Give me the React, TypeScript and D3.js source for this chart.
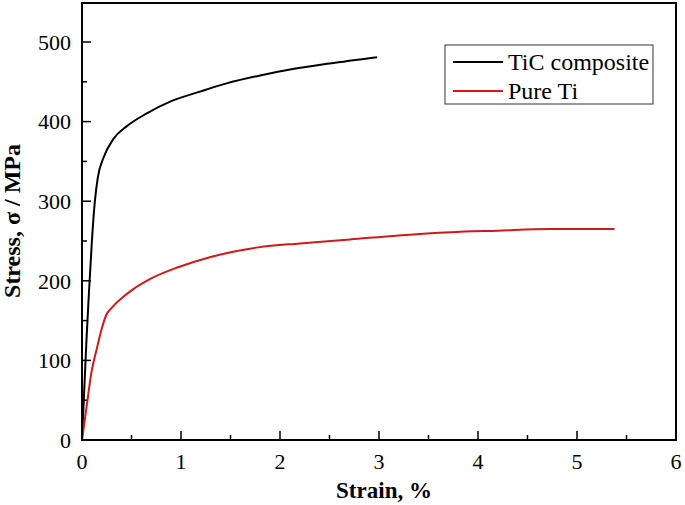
import { useEffect, useRef } from "react";
import * as d3 from "d3";

// Stress–strain curves
const ticStrain = [0, 0.02, 0.045, 0.07, 0.1, 0.13, 0.16, 0.215, 0.316, 0.45, 0.65, 0.89, 1.2, 1.46, 1.8, 2.13, 2.5, 2.98];
const ticStress = [0, 55, 125, 185, 250, 300, 330, 354, 378, 394, 410, 425, 438, 448, 458, 466, 473, 481];

const tiStrain = [0, 0.05, 0.094, 0.15, 0.2, 0.245, 0.3, 0.4, 0.5, 0.7, 0.97, 1.3, 1.78, 2.2, 2.71, 3.2, 3.72, 4.2, 4.73, 5.38];
const tiStress = [0, 45, 84, 115, 140, 157, 166, 178, 188, 203, 217, 230, 242, 247, 252, 257, 261, 263, 265, 265];

const xTicks = [0, 1, 2, 3, 4, 5, 6];
const yTicks = [0, 100, 200, 300, 400, 500];

const seriesNames = ["TiC composite", "Pure Ti"];
const seriesColors = ["#000000", "#d0191b"];

const width = 685;
const height = 505;

export default function App() {
    const svgRef = useRef<SVGSVGElement | null>(null);

    useEffect(() => {
        const svg = d3.select(svgRef.current);
        svg.selectAll("*").remove();

        const margin = { top: 3, right: 9, bottom: 65, left: 82 };
        const innerWidth = width - margin.left - margin.right;
        const innerHeight = height - margin.top - margin.bottom;
        const font = "'Liberation Serif', 'Times New Roman', serif";

        const g = svg.append("g").attr("transform", `translate(${margin.left},${margin.top})`);

        const x = d3.scaleLinear().domain([0, 6]).range([0, innerWidth]);
        // y=500 sits at about 42px, the top of the frame is a bit above 540
        const y = d3.scaleLinear().domain([0, 500]).range([innerHeight, innerHeight - 398]);
        const yTop = y.invert(0);

        // minor ticks
        const xMinor = d3.range(0.5, 6, 1);
        const yMinor = d3.range(50, yTop, 100);

        g.selectAll(".xmaj").data(xTicks).enter().append("line")
            .attr("x1", (d) => x(d)).attr("x2", (d) => x(d))
            .attr("y1", innerHeight).attr("y2", innerHeight - 9)
            .attr("stroke", "#000").attr("stroke-width", 1.5);
        g.selectAll(".xmin").data(xMinor).enter().append("line")
            .attr("x1", (d) => x(d)).attr("x2", (d) => x(d))
            .attr("y1", innerHeight).attr("y2", innerHeight - 5)
            .attr("stroke", "#000").attr("stroke-width", 1.5);
        g.selectAll(".ymaj").data(yTicks).enter().append("line")
            .attr("x1", 0).attr("x2", 9)
            .attr("y1", (d) => y(d)).attr("y2", (d) => y(d))
            .attr("stroke", "#000").attr("stroke-width", 1.5);
        g.selectAll(".ymin").data(yMinor).enter().append("line")
            .attr("x1", 0).attr("x2", 5)
            .attr("y1", (d) => y(d)).attr("y2", (d) => y(d))
            .attr("stroke", "#000").attr("stroke-width", 1.5);

        // tick labels
        g.selectAll(".xlab").data(xTicks).enter().append("text")
            .attr("x", (d) => x(d)).attr("y", innerHeight + 29)
            .attr("text-anchor", "middle")
            .style("font-family", font).style("font-size", "22px")
            .text((d) => d);
        g.selectAll(".ylab").data(yTicks).enter().append("text")
            .attr("x", -11).attr("y", (d) => y(d)).attr("dy", "0.35em")
            .attr("text-anchor", "end")
            .style("font-family", font).style("font-size", "22px")
            .text((d) => d);

        // curves
        const line = d3.line<[number, number]>()
            .x((d) => x(d[0])).y((d) => y(d[1]))
            .curve(d3.curveMonotoneX);

        const series: [number, number][][] = [
            ticStrain.map((s, i) => [s, ticStress[i]]),
            tiStrain.map((s, i) => [s, tiStress[i]]),
        ];

        g.selectAll(".curve").data(series).enter().append("path")
            .attr("d", (d) => line(d))
            .attr("fill", "none")
            .attr("stroke", (_, i) => seriesColors[i])
            .attr("stroke-width", 2);

        // frame
        g.append("rect")
            .attr("x", 0).attr("y", 0)
            .attr("width", innerWidth).attr("height", innerHeight)
            .attr("fill", "none").attr("stroke", "#000").attr("stroke-width", 2);

        // axis titles
        svg.append("text")
            .attr("x", 384).attr("y", 498)
            .attr("text-anchor", "middle")
            .style("font-family", font).style("font-size", "23px").style("font-weight", "bold")
            .text("Strain, %");
        svg.append("text")
            .attr("transform", `translate(20,221) rotate(-90)`)
            .attr("text-anchor", "middle")
            .style("font-family", font).style("font-size", "24px").style("font-weight", "bold")
            .text("Stress, σ / MPa");

        // legend
        const legend = svg.append("g").attr("transform", "translate(445,45)");
        legend.append("rect")
            .attr("width", 208).attr("height", 59)
            .attr("fill", "#fff").attr("stroke", "#333").attr("stroke-width", 1);
        seriesNames.forEach((name, i) => {
            const ly = 17 + i * 29;
            legend.append("line")
                .attr("x1", 8).attr("x2", 58).attr("y1", ly).attr("y2", ly)
                .attr("stroke", seriesColors[i]).attr("stroke-width", 2);
            legend.append("text")
                .attr("x", 63).attr("y", ly).attr("dy", "0.35em")
                .style("font-family", font).style("font-size", "24px")
                .text(name);
        });
    }, []);

    return (
        <svg
            ref={svgRef}
            width={width}
            height={height}
            style={{ position: "absolute", left: 0, top: 0, background: "#fff" }}
        />
    );
}
